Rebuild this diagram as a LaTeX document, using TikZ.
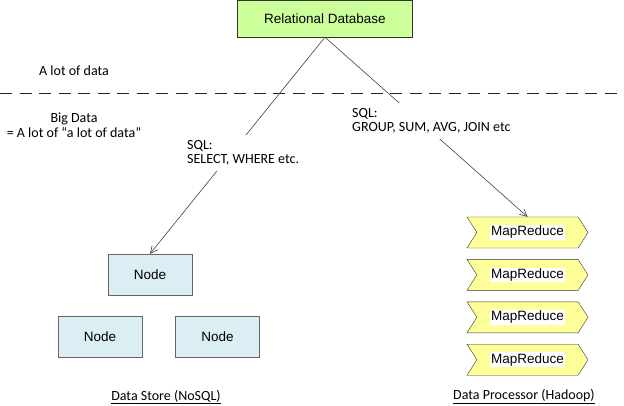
\documentclass[tikz,border=0pt]{standalone}
\usepackage{fontspec}
\setmainfont{Carlito}
\newfontfamily\boxfont{Liberation Sans}
\usepackage{tikz}
\usetikzlibrary{positioning,arrows.meta,shapes.symbols}
\definecolor{dbgreen}{HTML}{CCFF99}
\definecolor{nodeblue}{HTML}{DBEEF4}
\definecolor{mryellow}{HTML}{FFFF99}
\definecolor{linegray}{HTML}{404040}
\tikzset{
dbbox/.style={
draw=black!80,
fill=dbgreen,
minimum width=175pt,
minimum height=37pt,
font=\boxfont\fontsize{13.5}{15}\selectfont
},
storebox/.style={
draw=black!60,
fill=nodeblue,
minimum width=84pt,
minimum height=41pt,
font=\boxfont\fontsize{13.5}{15}\selectfont
},
mrbox/.style={
draw=black!80,
fill=mryellow,
signal,
signal to=east,
signal from=west,
signal pointer angle=115,
minimum width=121pt,
minimum height=31pt,
inner sep=0pt,
font=\boxfont\fontsize{13.5}{15}\selectfont
},
note/.style={
align=left,
font=\fontsize{14}{14.5}\selectfont
},
sqlnote/.style={
note,
fill=white,
inner sep=5pt
},
arrow/.style={
-{Straight Barb[length=2.5mm,width=2.5mm]},
draw=linegray,
line width=0.6pt
}
}
\newcommand{\mrtext}{{\setlength\fboxsep{1pt}\colorbox{white}{MapReduce}}}

\begin{document}
\begin{tikzpicture}[x=1pt,y=-1pt]
\useasboundingbox(0,0)rectangle(624,406);

\node[dbbox](db)at(325,18.5){Relational Database};
\node[note,align=center](lot)at(74,71){A lot of data};
\node[note,align=center](big)at(74,125){Big Data\\= A lot of “a lot of data”};
\coordinate(cutl)at(0,93);
\coordinate(cutr)at(624,93);
\draw[black!85,line width=0.9pt,dash pattern=on 12pt off 7.5pt](cutl)--(cutr);

\node[storebox](n1)at(150,274.5){Node};
\node[storebox](n2)at(100,336.5){Node};
\node[storebox,right=33pt of n2](n3){Node};

\node[mrbox](mr1)at(527.5,232.5){\mrtext};
\node[mrbox,below=11pt of mr1](mr2){\mrtext};
\node[mrbox,below=11pt of mr2](mr3){\mrtext};
\node[mrbox,below=11pt of mr3](mr4){\mrtext};

\draw[arrow](db.south)--(n1.north);
\draw[arrow](db.south)--(mr1.north);

\node[sqlnote,anchor=west](sqll)at(182,153){SQL:\\SELECT, WHERE etc.};
\node[sqlnote,anchor=west](sqlr)at(347,121){SQL:\\GROUP, SUM, AVG, JOIN etc};

\node[note](store)at(166,397){\underline{Data Store (NoSQL)}};
\node[note](proc)at(524,397){\underline{Data Processor (Hadoop)}};
\end{tikzpicture}
\end{document}
